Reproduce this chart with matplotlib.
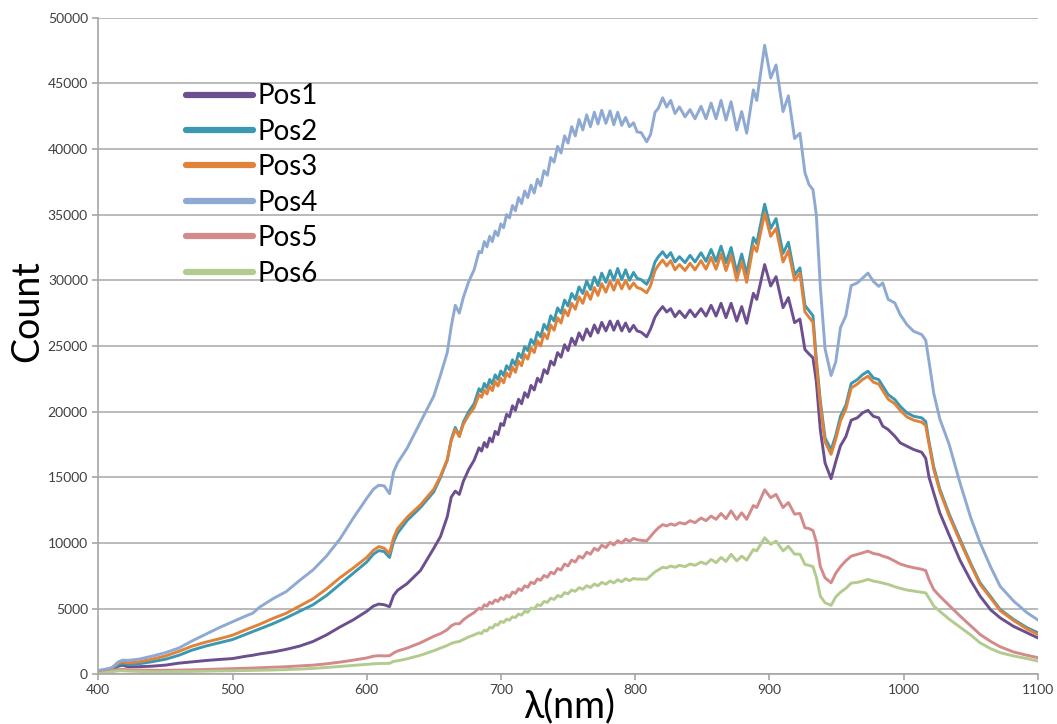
import matplotlib
matplotlib.use("Agg")
import matplotlib.pyplot as plt

plt.rcParams['font.family'] = ['Lato', 'DejaVu Sans']

# wavelength samples (nm)
wavelength = [
    400, 405, 410, 415, 418, 422, 430, 440, 450, 460, 470, 480, 490, 500, 510, 515, 520,
    530, 540, 550, 560, 570, 580, 590, 600, 605, 609, 613, 617, 620, 623, 630, 640, 650,
    655, 660, 663, 666, 669, 672, 676, 680,
    683.7, 685.6, 687.6, 689.6, 691.6, 693.6, 695.7, 697.8, 699.9, 702.0, 704.2, 706.4,
    708.6, 710.8, 713.1, 715.4, 717.7, 720.0, 722.4, 724.8, 727.2, 729.6, 732.1, 734.6,
    737.1, 739.6, 742.2, 744.8, 747.4, 750.0, 752.7, 755.4, 758.2, 761.0, 763.9, 766.7,
    769.6, 772.3, 775.1, 778.2, 781.3, 784.1, 787.0, 790.0, 792.9, 795.8, 798.8,
    801.5, 804.5, 808.6, 811.5, 814.8, 817.3, 820.5, 823.5, 826.5, 829.7, 833.0, 837.2,
    840.9, 844.6, 849.1, 852.8, 856.6, 860.3, 864.0, 867.7, 871.5, 875.7, 879.4, 883.1,
    888.1, 890.6, 896.5, 901.0, 905.0, 910.2, 914.2, 918.8, 922.8,
    926.5, 929.5, 932.5, 935, 938, 941.5, 946, 949.5, 953, 957, 961, 965.5, 969.5, 973.5,
    977.5, 981.5, 984.5, 988.5, 993.5, 997.5, 1002.5, 1007.5, 1013.5, 1016.5, 1019, 1022.5,
    1027, 1034, 1042, 1050, 1057, 1065, 1072, 1082, 1092, 1100,
]

pos1 = [
    120, 200, 330, 620, 700, 580, 580, 620, 700, 850, 950, 1050, 1130, 1200, 1380, 1450, 1550,
    1700, 1900, 2150, 2500, 3000, 3600, 4150, 4800, 5200, 5350, 5300, 5150, 6000, 6400, 6900, 7900, 9600,
    10500, 12000, 13500, 13950, 13700, 14700, 15600, 16300,
    17250, 17000, 17650, 17300, 18000, 17700, 18500, 18250, 19100, 18950, 19800, 19600,
    20450, 20100, 20950, 20600, 21450, 21100, 22000, 21650, 22550, 22250, 23200, 22900,
    23850, 23550, 24500, 24150, 25100, 24650, 25600, 25100, 26000, 25450, 26300, 25750,
    26600, 26000, 26800, 26150, 26900, 26200, 26900, 26150, 26750, 26100, 26570,
    26150, 26050, 25700, 26300, 27200, 27600, 28000, 27590, 27840, 27230, 27660, 27160,
    27740, 27230, 27840, 27280, 28100, 27280, 28250, 27160, 28250, 26900, 28000, 26730,
    29010, 28550, 31200, 29570, 30280, 27920, 28680, 26780, 27050,
    24730, 24400, 24100, 22300, 18600, 16100, 14900, 16200, 17400, 18100, 19350, 19530, 19910, 20100,
    19650, 19530, 18900, 18640, 18130, 17630, 17370, 17120, 16910, 16450, 15000, 13800,
    12300, 10600, 8700, 7150, 5960, 4900, 4300, 3650, 3170, 2780,
]

pos2 = [
    180, 260, 400, 720, 820, 760, 800, 960, 1150, 1450, 1850, 2150, 2400, 2650, 3050, 3250, 3450,
    3850, 4300, 4800, 5300, 6000, 6850, 7700, 8550, 9150, 9420, 9350, 8900, 10100, 10750, 11700, 12700, 13900,
    15000, 16300, 17900, 18800, 18150, 19200, 20000, 20600,
    21750, 21500, 22150, 21800, 22450, 22100, 22800, 22450, 23100, 22750, 23500, 23200,
    23950, 23550, 24450, 24100, 24950, 24650, 25500, 25150, 26050, 25700, 26650, 26250,
    27300, 26900, 27900, 27500, 28500, 28050, 29000, 28550, 29500, 29000, 29950, 29300,
    30250, 29600, 30550, 29850, 30750, 30000, 30900, 30050, 30800, 30000, 30600,
    30150, 30050, 29700, 30300, 31400, 31800, 32180, 31730, 32110, 31400, 31800, 31350,
    31900, 31400, 32100, 31450, 32350, 31450, 32600, 31350, 32500, 30600, 32000, 30450,
    33250, 32800, 35800, 33950, 34700, 32050, 32900, 30400, 30950,
    28100, 27700, 27300, 24000, 20800, 18000, 17100, 18200, 19650, 20500, 22150, 22440, 22820, 23080,
    22570, 22440, 21950, 21300, 20920, 20410, 19910, 19650, 19530, 19250, 17700, 15800,
    14100, 12200, 10300, 8450, 6970, 5900, 4940, 4180, 3550, 3170,
]

pos3 = [
    260, 350, 480, 850, 960, 880, 950, 1150, 1400, 1750, 2150, 2450, 2700, 2980, 3400, 3600, 3800,
    4250, 4650, 5200, 5750, 6500, 7350, 8100, 8900, 9450, 9730, 9600, 9200, 10400, 11100, 11950, 12900, 14100,
    15100, 16350, 17800, 18650, 18100, 19050, 19750, 20300,
    21300, 21100, 21650, 21350, 21950, 21600, 22300, 21950, 22550, 22200, 22950, 22650,
    23400, 23000, 23850, 23500, 24350, 24000, 24850, 24500, 25400, 25000, 25950, 25550,
    26600, 26200, 27150, 26750, 27750, 27300, 28250, 27800, 28750, 28250, 29150, 28550,
    29450, 28850, 29750, 29100, 29950, 29250, 30050, 29350, 30000, 29350, 29800,
    29450, 29350, 29050, 29600, 30750, 31150, 31550, 31100, 31500, 30800, 31200, 30750,
    31300, 30800, 31500, 30850, 31750, 30850, 32000, 30750, 31900, 30000, 31400, 29850,
    32650, 32200, 35100, 33350, 33950, 31400, 32250, 30000, 30550,
    27600, 27200, 26800, 23700, 20500, 17700, 16750, 17900, 19300, 20200, 21800, 22100, 22450, 22700,
    22250, 22100, 21600, 20950, 20600, 20100, 19600, 19350, 19200, 18950, 17500, 15600,
    13950, 12050, 10150, 8350, 6850, 5800, 4850, 4100, 3450, 3050,
]

pos4 = [
    300, 380, 500, 950, 1080, 1060, 1150, 1380, 1650, 2000, 2550, 3050, 3550, 4000, 4450, 4650, 5100,
    5750, 6300, 7150, 7950, 9000, 10300, 11900, 13400, 14100, 14400, 14350, 13750, 15400, 16100, 17200, 19200, 21200,
    22800, 24500, 26500, 28100, 27500, 28700, 29900, 30800,
    32200, 32100, 32950, 32550, 33350, 32950, 33750, 33400, 34300, 34000, 35000, 34750,
    35700, 35300, 36300, 35850, 36800, 36300, 37250, 36650, 37700, 37200, 38350, 38000,
    39350, 39000, 40200, 39700, 41000, 40450, 41700, 41000, 42250, 41450, 42600, 41700,
    42800, 41900, 42950, 41950, 42900, 41850, 42800, 41800, 42400, 41700, 42000,
    41300, 41250, 40550, 41100, 42800, 43100, 43900, 43200, 43700, 42700, 43200, 42450,
    43000, 42300, 43250, 42300, 43500, 42300, 43700, 42200, 43600, 41450, 42850, 41200,
    44500, 43700, 47900, 45400, 46400, 42850, 44050, 40800, 41200,
    38200, 37300, 36900, 35000, 29500, 24800, 22750, 23800, 26400, 27300, 29600, 29800, 30180, 30550,
    29925, 29540, 29800, 28550, 28280, 27390, 26630, 26120, 25870, 25450, 23800, 21400,
    19450, 17500, 14600, 11950, 10020, 8150, 6700, 5580, 4690, 4150,
]

pos5 = [
    100, 180, 280, 360, 380, 350, 320, 310, 310, 320, 340, 370, 400, 430, 460, 480, 500,
    540, 580, 640, 700, 800, 930, 1080, 1250, 1380, 1420, 1400, 1420, 1620, 1780, 2000, 2400, 2900,
    3100, 3400, 3700, 3850, 3850, 4150, 4450, 4700,
    5050, 4950, 5300, 5200, 5500, 5380, 5670, 5550, 5850, 5700, 6020, 5880,
    6270, 6160, 6520, 6380, 6740, 6630, 7020, 6900, 7270, 7160, 7530, 7390,
    7780, 7650, 8060, 7940, 8400, 8250, 8700, 8550, 9000, 8850, 9300, 9150,
    9600, 9430, 9830, 9650, 10050, 9850, 10180, 10000, 10300, 10120, 10350,
    10250, 10200, 10160, 10500, 10900, 11150, 11400, 11300, 11450, 11350, 11550, 11450,
    11700, 11550, 11900, 11700, 12050, 11800, 12250, 11850, 12450, 11800, 12300, 11800,
    12850, 12700, 14050, 13450, 13700, 12700, 13080, 12200, 12250,
    11160, 11100, 10950, 10100, 8200, 7350, 6970, 7700, 8200, 8650, 9000, 9130, 9250, 9380,
    9200, 9130, 9000, 8880, 8620, 8400, 8240, 8120, 8000, 7900, 7200, 6450,
    5950, 5250, 4450, 3700, 3040, 2500, 2100, 1700, 1450, 1270,
]

pos6 = [
    60, 120, 200, 260, 270, 250, 220, 200, 200, 210, 220, 240, 260, 270, 290, 300, 310,
    330, 360, 400, 450, 520, 600, 680, 760, 800, 820, 830, 840, 980, 1030, 1180, 1450, 1800,
    2000, 2200, 2350, 2450, 2500, 2650, 2850, 3000,
    3170, 3100, 3360, 3300, 3580, 3520, 3800, 3750, 4030, 3950, 4200, 4120,
    4380, 4320, 4590, 4510, 4800, 4720, 5050, 4980, 5300, 5230, 5550, 5480,
    5800, 5700, 6000, 5900, 6220, 6130, 6420, 6320, 6600, 6480, 6750, 6610,
    6880, 6740, 7000, 6860, 7110, 6960, 7200, 7050, 7280, 7130, 7300,
    7250, 7250, 7240, 7500, 7800, 7950, 8150, 8100, 8250, 8150, 8300, 8200,
    8400, 8300, 8550, 8400, 8750, 8500, 8900, 8600, 9140, 8640, 9000, 8700,
    9500, 9400, 10400, 9900, 10150, 9400, 9750, 9150, 9150,
    8370, 8300, 8200, 7400, 5950, 5450, 5250, 5900, 6250, 6550, 6950, 7000, 7100, 7230,
    7100, 7025, 6950, 6850, 6670, 6550, 6420, 6340, 6250, 6200, 5800, 5200,
    4800, 4200, 3600, 3000, 2400, 1950, 1650, 1400, 1200, 1015,
]

series_names = ["Pos1", "Pos2", "Pos3", "Pos4", "Pos5", "Pos6"]
series_values = [pos1, pos2, pos3, pos4, pos5, pos6]
series_colors = ["#6b4f8f", "#3a98b0", "#e0823a", "#8ea9d2", "#d38a8a", "#b3cb8e"]

x_ticks = [400, 500, 600, 700, 800, 900, 1000, 1100]
y_ticks = list(range(0, 50001, 5000))

fig = plt.figure(figsize=(10.57, 7.24), dpi=100)
ax = fig.add_axes([0.093, 0.0686, 0.8888, 0.907])

for name, vals, col in zip(series_names, series_values, series_colors):
    ax.plot(wavelength, vals, color=col, lw=2.1, label=name, solid_joinstyle="round")

ax.set_xlim(400, 1100)
ax.set_ylim(0, 50000)
ax.set_xticks(x_ticks)
ax.set_yticks(y_ticks)
ax.yaxis.grid(True, color="#b4b4b4", lw=1.3)
ax.set_axisbelow(True)
for side in ("top", "right"):
    ax.spines[side].set_visible(False)
for side in ("left", "bottom"):
    ax.spines[side].set_color("#a6a6a6")
    ax.spines[side].set_linewidth(1.2)
ax.tick_params(axis="both", colors="#a6a6a6", length=4, width=1.2,
               labelcolor="#404040", labelsize=10)
ax.tick_params(axis="x", pad=3)

ax.set_ylabel("Count", fontsize=27, color="black", va="center")
ax.yaxis.set_label_coords(-0.076, 0.553)
ax.set_xlabel("λ(nm)", fontsize=27, color="black", va="center")
ax.xaxis.set_label_coords(0.501, -0.049)

leg = ax.legend(loc="upper left", bbox_to_anchor=(0.082, 0.917), frameon=False,
                fontsize=20, handlelength=2.4, handletextpad=0.15, labelspacing=0.34,
                borderaxespad=0)
for line in leg.get_lines():
    line.set_linewidth(4.5)
    line.set_solid_capstyle("round")

fig.savefig("out.png", dpi=100)
